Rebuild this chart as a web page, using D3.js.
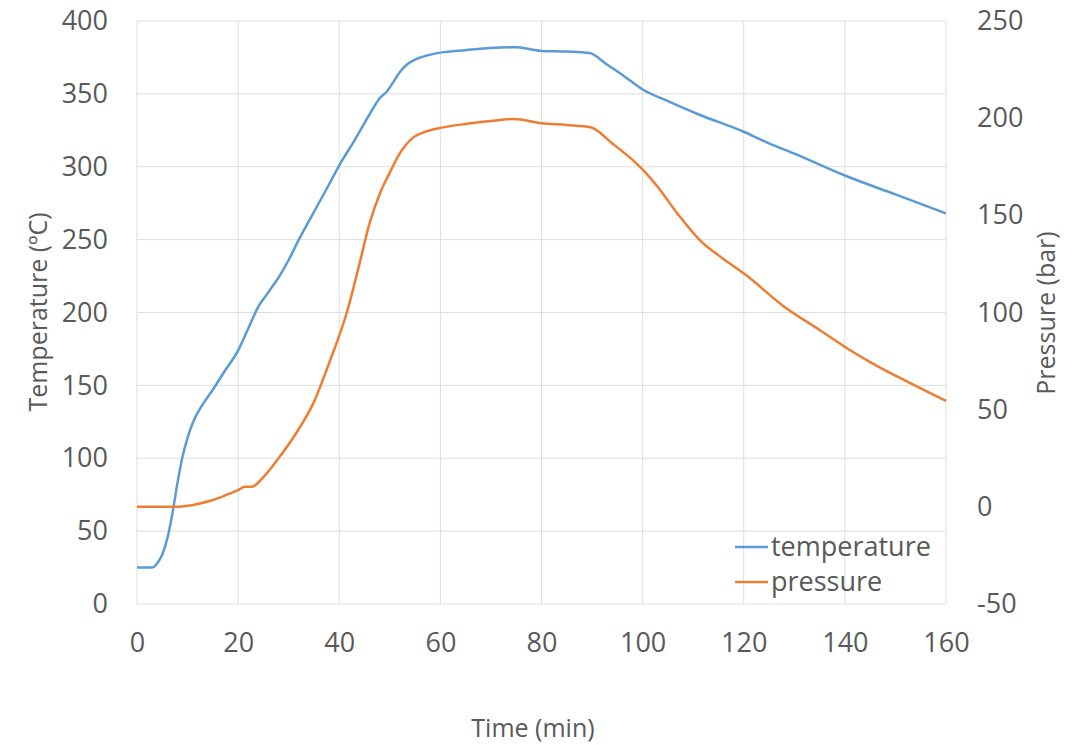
<!DOCTYPE html>
<html>
<head>
<meta charset="utf-8">
<script src="https://cdn.jsdelivr.net/npm/d3@7"></script>
<style>
  body { margin: 0; background: #fff; }
  text { font-family: "Open Sans", sans-serif; fill: #595959; }
</style>
</head>
<body>
<div id="chart"></div>
<script>
// time (min) vs temperature (°C)
const tempTime = [0, 3, 4, 5, 6, 7, 8, 9, 10, 11, 13, 15, 17, 20, 22, 24, 26, 28, 30, 32, 35, 38, 40, 43, 46, 48, 49.5, 50.5, 52, 53.5, 55, 57, 60, 65, 70, 75, 78, 80, 85, 89.5, 93, 96, 100, 105, 111, 120, 125, 130, 140, 150, 160]
const tempValues = [25, 25, 28, 34, 45, 62, 83, 101, 114, 124, 137, 147, 158, 174, 189, 204, 214, 224, 236, 250, 269, 288, 301, 318, 336, 347, 352, 357, 365, 370.5, 373.5, 376, 378.3, 380, 381.5, 382, 380.5, 379.5, 379, 378, 370, 363, 353, 345, 336, 324, 316, 309, 294, 281, 268]

// time (min) vs pressure (bar)
const presTime = [0, 8, 10, 12, 15, 18, 20, 21.3, 22.7, 25, 28, 31.5, 35, 38, 41.5, 44, 46, 48, 50, 52, 54.6, 57, 60, 65, 70, 74.5, 80, 85, 89.7, 94, 98, 100.2, 103, 107, 111.4, 116, 120.3, 128, 135, 140.5, 145, 150, 155, 160]
const presValues = [0, 0, 0.5, 1.5, 3.5, 6.5, 8.6, 10.3, 10.3, 15.3, 25, 38, 54, 74, 100, 125, 146, 161, 172, 182, 190, 193, 195, 197, 198.5, 199.6, 197.4, 196.5, 195.3, 187, 178.5, 173, 164.6, 150.5, 137, 127.5, 119.5, 103, 91, 81.5, 74.5, 67.5, 61, 54.5]

const xTicks = [0, 20, 40, 60, 80, 100, 120, 140, 160]
const tempTicks = [0, 50, 100, 150, 200, 250, 300, 350, 400]
const presTicks = [-50, 0, 50, 100, 150, 200, 250]

const seriesNames = ['temperature', 'pressure']
const colors = ['#5b9bd5', '#ed7d31']

const width = 1092, height = 745
const plotLeft = 137, plotRight = 946, plotTop = 21, plotBottom = 604

const svg = d3.select('#chart').append('svg')
  .attr('width', width).attr('height', height)

const x = d3.scaleLinear().domain([0, 160]).range([plotLeft, plotRight])
const yT = d3.scaleLinear().domain([0, 400]).range([plotBottom, plotTop])
const yP = d3.scaleLinear().domain([-50, 250]).range([plotBottom, plotTop])

// gridlines
svg.append('g').selectAll('line').data(tempTicks).join('line')
  .attr('x1', plotLeft).attr('x2', plotRight)
  .attr('y1', d => yT(d)).attr('y2', d => yT(d))
  .attr('stroke', '#dedede').attr('stroke-width', 1)
svg.append('g').selectAll('line').data(xTicks).join('line')
  .attr('x1', d => x(d)).attr('x2', d => x(d))
  .attr('y1', plotTop).attr('y2', plotBottom)
  .attr('stroke', '#dedede').attr('stroke-width', 1)

// axes (labels only), plain hyphen for negatives
const fmt = d => String(d)
const xAxis = svg.append('g')
  .attr('transform', `translate(0,${plotBottom + 29})`)
  .call(d3.axisBottom(x).tickValues(xTicks).tickSize(0).tickPadding(0).tickFormat(fmt))
const yAxisL = svg.append('g')
  .attr('transform', `translate(${plotLeft - 29},0)`)
  .call(d3.axisLeft(yT).tickValues(tempTicks).tickSize(0).tickPadding(0).tickFormat(fmt))
const yAxisR = svg.append('g')
  .attr('transform', `translate(${plotRight + 31},0)`)
  .call(d3.axisRight(yP).tickValues(presTicks).tickSize(0).tickPadding(0).tickFormat(fmt))

;[xAxis, yAxisL, yAxisR].forEach(g => {
  g.select('.domain').remove()
  g.selectAll('text').style('font-size', '27px').attr('fill', '#595959')
    .style('font-family', '"Open Sans", sans-serif')
})
xAxis.selectAll('text').attr('dy', '0.71em')

// lines
const lineT = d3.line().x((d, i) => x(tempTime[i])).y(d => yT(d)).curve(d3.curveMonotoneX)
const lineP = d3.line().x((d, i) => x(presTime[i])).y(d => yP(d)).curve(d3.curveMonotoneX)

svg.append('path').datum(tempValues)
  .attr('d', lineT).attr('fill', 'none')
  .attr('stroke', colors[0]).attr('stroke-width', 2.5)
svg.append('path').datum(presValues)
  .attr('d', lineP).attr('fill', 'none')
  .attr('stroke', colors[1]).attr('stroke-width', 2.5)

// axis titles
svg.append('text').text('Time (min)')
  .attr('x', 533).attr('y', 737)
  .attr('text-anchor', 'middle').style('font-size', '25px')
svg.append('text').text('Temperature (ºC)')
  .attr('transform', 'translate(47,312) rotate(-90)')
  .attr('text-anchor', 'middle').style('font-size', '25px')
svg.append('text').text('Pressure (bar)')
  .attr('transform', 'translate(1055,313) rotate(-90)')
  .attr('text-anchor', 'middle').style('font-size', '25px')

// legend
const legend = svg.append('g').selectAll('g').data(seriesNames).join('g')
  .attr('transform', (d, i) => `translate(735,${547 + i * 35})`)
legend.append('line')
  .attr('x1', 0).attr('x2', 33).attr('y1', 0).attr('y2', 0)
  .attr('stroke', (d, i) => colors[i]).attr('stroke-width', 2.5)
legend.append('text').text(d => d)
  .attr('x', 36).attr('dy', '0.35em')
  .style('font-size', '27px')
</script>
</body>
</html>
